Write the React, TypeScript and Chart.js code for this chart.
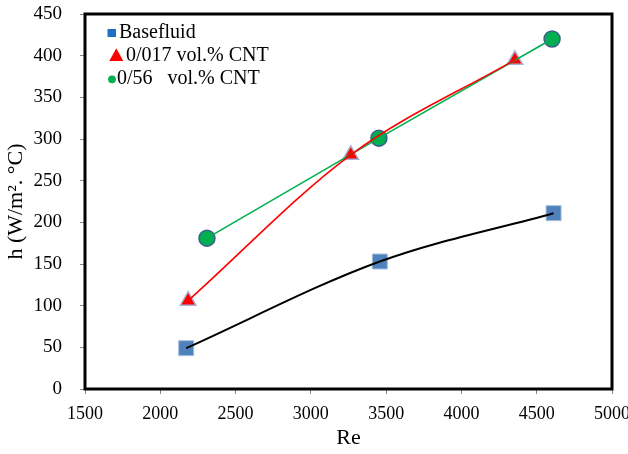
import React, { useEffect, useRef } from 'react';
import { Chart, registerables } from 'chart.js';

Chart.register(...registerables);

const seriesNames = ['Basefluid', '0/017 vol.% CNT', '0/56   vol.% CNT'];
const baseRe = [2172, 3458, 4612];
const baseH = [49, 153, 211];
const cnt017Re = [2185, 3265, 4355];
const cnt017H = [106, 281, 395];
const cnt056Re = [2310, 3452, 4602];
const cnt056H = [181, 301, 420];

const xMin = 1500;
const xMax = 5000;
const xStep = 500;
const yMin = 0;
const yMax = 450;
const yStep = 50;

const xTitle = 'Re';
const yTitle = 'h (W/m\u00B2. \u00B0C)';

const FONT = '"Liberation Serif", "Times New Roman", serif';

const toPts = (xs: number[], ys: number[]) => xs.map((x, i) => ({ x, y: ys[i] }));

const zeroPad = (s: any) => {
  s.paddingLeft = 0;
  s.paddingRight = 0;
  s.paddingTop = 0;
  s.paddingBottom = 0;
};

const framePlugin = {
  id: 'frame',
  beforeDatasetsDraw(chart: any) {
    const { ctx, chartArea } = chart;
    const { left, top, right, bottom } = chartArea;
    ctx.save();
    ctx.strokeStyle = '#000';
    ctx.lineWidth = 3;
    ctx.strokeRect(left, top, right - left, bottom - top);
    ctx.restore();
  },
};

const legendPlugin = {
  id: 'insideLegend',
  afterDraw(chart: any) {
    const ctx = chart.ctx as CanvasRenderingContext2D;
    ctx.save();
    ctx.font = `20px ${FONT}`;
    ctx.fillStyle = '#000';
    ctx.textBaseline = 'alphabetic';
    ctx.textAlign = 'left';
    // square
    ctx.fillStyle = '#1F6FC5';
    ctx.fillRect(107.5, 29, 8.5, 8);
    ctx.fillStyle = '#000';
    ctx.fillText(seriesNames[0], 119, 38);
    // triangle
    ctx.fillStyle = '#FF0000';
    ctx.beginPath();
    ctx.moveTo(116.3, 48.3);
    ctx.lineTo(123.3, 61);
    ctx.lineTo(109.3, 61);
    ctx.closePath();
    ctx.fill();
    ctx.fillStyle = '#000';
    ctx.fillText(seriesNames[1], 126, 61);
    // circle
    ctx.fillStyle = '#00B050';
    ctx.beginPath();
    ctx.arc(112, 79.3, 3.9, 0, Math.PI * 2);
    ctx.fill();
    ctx.fillStyle = '#000';
    ctx.fillText(seriesNames[2], 117, 83.5);
    ctx.restore();
  },
};

export default function App() {
  const ref = useRef<HTMLCanvasElement | null>(null);

  useEffect(() => {
    if (!ref.current) return;
    const chart = new Chart(ref.current, {
      type: 'scatter',
      data: {
        datasets: [
          {
            label: seriesNames[0] + ' trend',
            data: toPts(baseRe, baseH),
            showLine: true,
            borderColor: '#000000',
            borderWidth: 2,
            cubicInterpolationMode: 'monotone',
            pointRadius: 0,
            order: 0,
          },
          {
            label: seriesNames[1] + ' trend',
            data: toPts(cnt017Re, cnt017H),
            showLine: true,
            borderColor: '#FF0000',
            borderWidth: 1.6,
            cubicInterpolationMode: 'monotone',
            pointRadius: 0,
            order: 0,
          },
          {
            label: seriesNames[2] + ' trend',
            data: toPts(cnt056Re, cnt056H),
            showLine: true,
            borderColor: '#00B050',
            borderWidth: 1.6,
            tension: 0,
            pointRadius: 0,
            order: 0,
          },
          {
            label: seriesNames[0],
            data: toPts(baseRe, baseH),
            pointStyle: 'rect',
            pointRadius: 10.6,
            backgroundColor: '#4F81BD',
            borderColor: '#A7BFDE',
            borderWidth: 1,
            order: 1,
          },
          {
            label: seriesNames[1],
            data: toPts(cnt017Re, cnt017H),
            pointStyle: 'triangle',
            pointRadius: 9,
            backgroundColor: '#FF0000',
            borderColor: '#A5B4D4',
            borderWidth: 1.5,
            order: 1,
          },
          {
            label: seriesNames[2],
            data: toPts(cnt056Re, cnt056H),
            pointStyle: 'circle',
            pointRadius: 8,
            backgroundColor: '#00B050',
            borderColor: '#3E5F8F',
            borderWidth: 1.5,
            order: 1,
          },
        ],
      },
      options: {
        responsive: false,
        animation: false,
        layout: { autoPadding: false, padding: { top: 14, right: 16, left: 0, bottom: 0 } },
        plugins: {
          legend: { display: false },
          tooltip: { enabled: false },
        },
        scales: {
          x: {
            type: 'linear',
            min: xMin,
            max: xMax,
            ticks: {
              stepSize: xStep,
              color: '#000',
              font: { family: FONT, size: 18 },
              padding: 9,
              maxRotation: 0,
              callback: (v: any) => String(v),
            },
            grid: {
              display: true,
              drawOnChartArea: false,
              drawTicks: true,
              tickLength: 5,
              color: '#868686',
            },
            border: { display: false },
            title: {
              display: true,
              text: xTitle,
              color: '#000',
              font: { family: FONT, size: 22 },
              padding: { top: 0, bottom: 3 },
            },
            afterFit: (s: any) => {
              s.height = 65;
              zeroPad(s);
            },
          },
          y: {
            type: 'linear',
            min: yMin,
            max: yMax,
            ticks: {
              stepSize: yStep,
              color: '#000',
              font: { family: FONT, size: 19 },
              padding: 18,
              callback: (v: any) => String(v),
            },
            grid: {
              display: true,
              drawOnChartArea: false,
              drawTicks: true,
              tickLength: 5,
              color: '#868686',
            },
            border: { display: false },
            title: {
              display: true,
              text: yTitle,
              color: '#000',
              font: { family: FONT, size: 22 },
              padding: { top: 3, bottom: 0 },
            },
            afterFit: (s: any) => {
              s.width = 85;
              zeroPad(s);
            },
          },
        },
      },
      plugins: [framePlugin, legendPlugin],
    } as any);
    return () => chart.destroy();
  }, []);

  return (
    <div style={{ position: 'absolute', left: 0, top: 0, width: 628, height: 454, background: '#fff' }}>
      <canvas ref={ref} width={628} height={454} style={{ display: 'block' }} />
    </div>
  );
}
